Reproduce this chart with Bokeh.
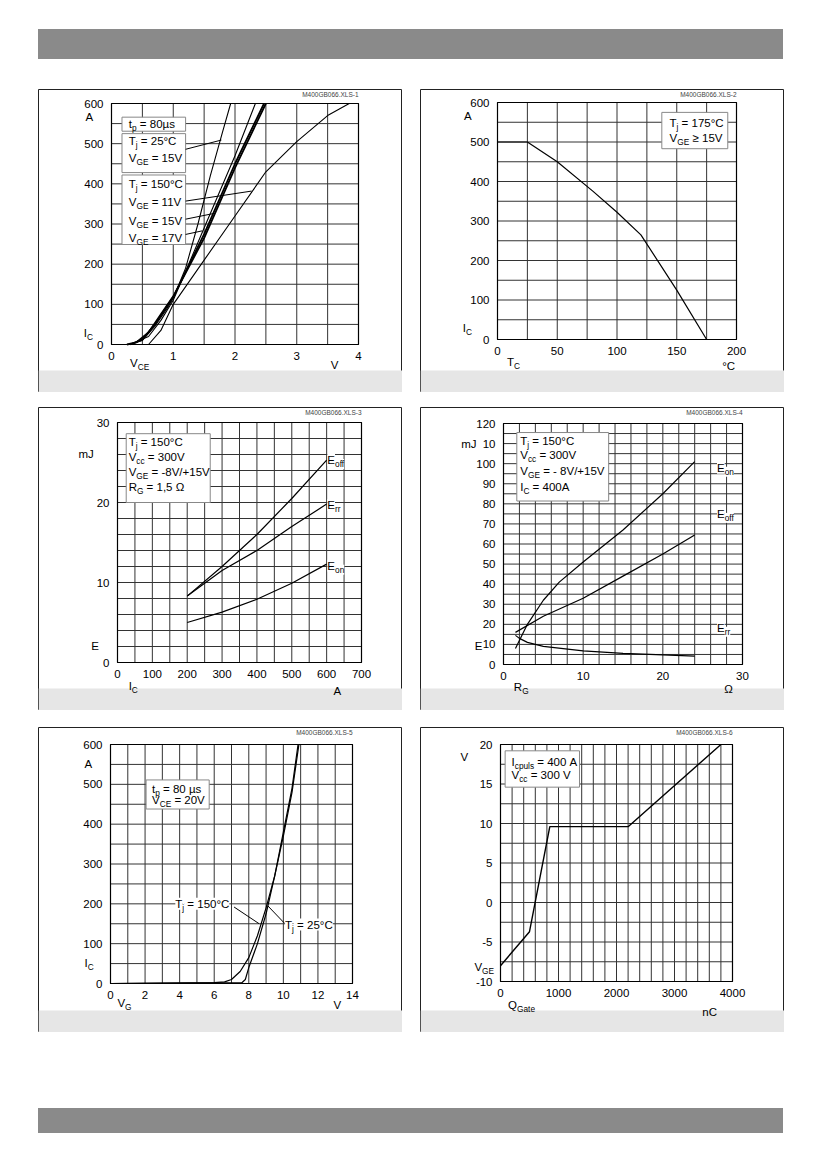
from bokeh.plotting import figure
from bokeh.models import Label, Div, Spacer
from bokeh.layouts import column, row
from bokeh.core.properties import value
from bokeh.embed import file_html
from bokeh.resources import INLINE

FONT = "Liberation Sans"
NB = "\u00a0"

# ---------------- data ----------------
# Panel 1: output characteristic
p1_25_15_x = [0.30, 0.50, 0.70, 0.90, 1.00, 1.20, 1.40, 1.60, 1.80, 1.93]
p1_25_15_y = [0, 10, 45, 90, 115, 190, 300, 420, 530, 600]
p1_b_x = [0.30, 0.60, 0.80, 1.00, 1.50, 2.00, 2.33]
p1_b_y = [0, 20, 60, 110, 290, 470, 600]
p1_150_15_x = [0.25, 0.40, 0.60, 0.80, 1.00, 1.50, 2.00, 2.50]
p1_150_15_y = [0, 5, 30, 75, 120, 265, 440, 600]
p1_150_17_x = [0.30, 0.50, 0.70, 0.90, 1.00, 1.50, 2.00, 2.47]
p1_150_17_y = [0, 12, 50, 95, 118, 275, 450, 600]
p1_150_11_x = [0.60, 0.80, 1.00, 1.50, 2.00, 2.50, 3.00, 3.50, 3.85]
p1_150_11_y = [0, 35, 100, 210, 320, 430, 505, 570, 600]
# Panel 2: current derating
p2_x = [0, 25, 50, 80, 100, 120, 150, 175]
p2_y = [500, 500, 450, 375, 322, 265, 125, 0]
# Panel 3: switching energy vs Ic
p3_x = [200, 300, 400, 500, 600]
p3_eoff = [8.3, 12.0, 16.0, 20.5, 25.3]
p3_err = [8.3, 11.5, 14.0, 17.0, 19.8]
p3_eon = [5.0, 6.3, 7.9, 9.9, 12.3]
# Panel 4: switching energy vs Rg
p4_eon_x = [1.5, 3, 5, 7, 10, 15, 20, 24]
p4_eon_y = [8, 20, 32, 41, 51, 67, 85, 101]
p4_eoff_x = [1.5, 5, 10, 15, 20, 24]
p4_eoff_y = [16, 24, 33, 44, 55, 64.5]
p4_err_x = [1.5, 2, 3, 5, 10, 15, 20, 24]
p4_err_y = [14.5, 13, 11, 9, 6.8, 5.5, 4.8, 4.2]
# Panel 5: transfer characteristic
p5_150_x = [0, 6, 6.6, 7, 7.5, 8, 8.5, 9, 9.5, 10, 10.5, 10.9]
p5_150_y = [0, 2, 4, 10, 30, 65, 120, 190, 270, 370, 480, 600]
p5_25_x = [0, 7.6, 7.8, 8, 8.5, 9, 9.5, 10, 10.5, 10.85]
p5_25_y = [0, 2, 10, 40, 100, 175, 270, 380, 490, 600]
# Panel 6: gate charge
p6_x = [0, 500, 850, 2200, 3800]
p6_y = [-8, -3.7, 9.6, 9.6, 20]

def rng(a, b, s):
    out = []
    v = a
    while v <= b + 1e-9:
        out.append(round(v, 6))
        v += s
    return out

# ---------------- helpers ----------------
CW = {' ': .28, NB: .28, 'i': .22, 'j': .22, 'l': .22, 'I': .28, 'f': .28, 't': .28, 'r': .33,
      'm': .83, 'W': .94, '=': .58, '≥': .55, '°': .4, 'µ': .58, 'Ω': .77, '/': .28,
      '+': .58, '-': .33, ',': .28, '.': .28, 'C': .72, 'V': .67, 'E': .67, 'T': .61,
      'G': .78, 'A': .67, 'R': .72, 'Q': .78, 'c': .5, 's': .5, 'p': .56, 'u': .56}

def tw(s, size):
    return sum(CW.get(c, .56) for c in s) * size

def rich(p, x, y, parts, size=11.5, bg=None):
    off = 0
    for txt, sub in parts:
        txt = txt.replace(" ", NB)
        fs = size * 0.72 if sub else size
        kw = {}
        if bg:
            kw = dict(background_fill_color=bg)
        p.add_layout(Label(x=x, y=y, x_offset=off, y_offset=-4 if sub else 0, text=txt,
                           text_font=FONT, text_font_size=f"{fs:.1f}px",
                           text_baseline="middle", text_align="left", text_color="black", **kw))
        off += tw(txt, fs)

W = 364
FOOT = 22

def make_fig(x0, x1, y0, y1, fw, fh, left, top, H, xt, xg, yt, yg, code, ylabels=None):
    sx = (x1 - x0) / fw
    sy = (y1 - y0) / fh
    right = W - left - fw
    bottom = H - top - fh
    xs, xe = x0 - left * sx, x1 + right * sx
    ys, ye = y0 - bottom * sy, y1 + top * sy
    p = figure(x_range=(xs, xe), y_range=(ys, ye), width=W, height=H, min_border=0,
               toolbar_location=None, output_backend="svg",
               background_fill_color="white", border_fill_color="white")
    p.axis.visible = False
    p.grid.visible = False
    p.outline_line_color = "#222222"
    p.outline_line_width = 1
    p.quad(left=[xs], right=[xe], bottom=[ys], top=[ys + FOOT * sy],
           fill_color="#e6e6e6", line_color=None)
    p.segment(x0=xg, x1=xg, y0=[y0] * len(xg), y1=[y1] * len(xg), line_color="#333333", line_width=1)
    p.segment(x0=[x0] * len(yg), x1=[x1] * len(yg), y0=yg, y1=yg, line_color="#333333", line_width=1)
    p.quad(left=[x0], right=[x1], bottom=[y0], top=[y1], fill_color=None,
           line_color="black", line_width=1.2)
    p.text(x=xt, y=[y0 - 7 * sy] * len(xt), text=[f"{v:g}" for v in xt],
           text_font=value(FONT), text_font_size="11.5px", text_align="center",
           text_baseline="top", text_color="black")
    ylab = [ylabels.get(v, f"{v:g}") if ylabels else f"{v:g}" for v in yt]
    p.text(x=[x0 - 8 * sx] * len(yt), y=yt, text=ylab,
           text_font=value(FONT), text_font_size="11.5px", text_align="right",
           text_baseline="middle", text_color="black")
    p.text(x=[x1], y=[ye - 5 * sy], text=[code], text_font=value(FONT), text_font_size="6.5px",
           text_color="#444444", text_align="right", text_baseline="middle")
    return p

def box(p, l, r, b, t):
    p.quad(left=[l], right=[r], bottom=[b], top=[t], fill_color="white",
           line_color="#888888", line_width=1)

def lead(p, xs, ys):
    p.line(xs, ys, line_color="black", line_width=1)

# ---------------- panel 1 ----------------
p1 = make_fig(0, 4, 0, 600, 247, 241, 73, 14, 303, [0, 1, 2, 3, 4], rng(0, 4, .5),
              rng(0, 600, 100), rng(0, 600, 50), "M400GB066.XLS-1")
box(p1, 0.17, 1.2, 531, 566)
box(p1, 0.17, 1.2, 428, 525)
box(p1, 0.17, 1.2, 249, 422)
for xs, ys, w in ((p1_25_15_x, p1_25_15_y, 1.1), (p1_b_x, p1_b_y, 1.1),
                  (p1_150_15_x, p1_150_15_y, 1.8), (p1_150_17_x, p1_150_17_y, 1.8),
                  (p1_150_11_x, p1_150_11_y, 1.1)):
    p1.line(xs, ys, line_color="black", line_width=w)
lead(p1, [1.2, 1.78], [486, 509])
lead(p1, [1.2, 2.27], [357, 382])
lead(p1, [1.2, 1.65], [312, 326])
lead(p1, [1.2, 1.47], [274, 283])
rich(p1, 0.28, 548, [("t", 0), ("p", 1), (" = 80µs", 0)])
rich(p1, 0.28, 507, [("T", 0), ("j", 1), (" = 25°C", 0)])
rich(p1, 0.28, 465, [("V", 0), ("GE", 1), (" = 15V", 0)])
rich(p1, 0.28, 400, [("T", 0), ("j", 1), (" = 150°C", 0)])
rich(p1, 0.28, 355, [("V", 0), ("GE", 1), (" = 11V", 0)])
rich(p1, 0.28, 308, [("V", 0), ("GE", 1), (" = 15V", 0)])
rich(p1, 0.28, 264, [("V", 0), ("GE", 1), (" = 17V", 0)])
rich(p1, -0.42, 566, [("A", 0)])
rich(p1, -0.45, 28, [("I", 0), ("C", 1)])
rich(p1, 0.3, -45, [("V", 0), ("CE", 1)])
rich(p1, 3.55, -52, [("V", 0)])

# ---------------- panel 2 ----------------
p2 = make_fig(0, 200, 0, 600, 239, 237, 77, 13, 303, rng(0, 200, 50), rng(0, 200, 25),
              rng(0, 600, 100), rng(0, 600, 50), "M400GB066.XLS-2")
p2.line(p2_x, p2_y, line_color="black", line_width=1.2)
box(p2, 137.5, 192.7, 483, 575)
rich(p2, 144, 549, [("T", 0), ("j", 1), (" = 175°C", 0)])
rich(p2, 144, 509, [("V", 0), ("GE", 1), (" ≥ 15V", 0)])
rich(p2, -28, 566, [("A", 0)])
rich(p2, -29, 30, [("I", 0), ("C", 1)])
rich(p2, 8, -58, [("T", 0), ("C", 1)])
rich(p2, 188, -66, [("°C", 0)])

# ---------------- panel 3 ----------------
p3 = make_fig(0, 700, 0, 30, 244, 240, 79, 15, 303, rng(0, 700, 100), rng(0, 700, 50),
              [0, 10, 20, 30], rng(0, 30, 2), "M400GB066.XLS-3")
box(p3, 25, 266, 20.0, 28.6)
for ys in (p3_eoff, p3_err, p3_eon):
    p3.line(p3_x, ys, line_color="black", line_width=1.2)
rich(p3, 32, 27.6, [("T", 0), ("j", 1), (" = 150°C", 0)])
rich(p3, 32, 25.7, [("V", 0), ("cc", 1), (" = 300V", 0)])
rich(p3, 32, 23.8, [("V", 0), ("GE", 1), (" = -8V/+15V", 0)])
rich(p3, 32, 21.9, [("R", 0), ("G", 1), (" = 1,5 Ω", 0)])
rich(p3, 602, 25.3, [("E", 0), ("off", 1)], bg="white")
rich(p3, 602, 19.7, [("E", 0), ("rr", 1)], bg="white")
rich(p3, 602, 12.1, [("E", 0), ("on", 1)], bg="white")
rich(p3, -112, 26.1, [("mJ", 0)])
rich(p3, -75, 2.1, [("E", 0)])
rich(p3, 32, -2.9, [("I", 0), ("C", 1)])
rich(p3, 620, -3.5, [("A", 0)])

# ---------------- panel 4 ----------------
p4 = make_fig(0, 30, 0, 120, 239, 241, 83, 16, 303, [0, 10, 20, 30], rng(0, 30, 2),
              rng(0, 120, 10), rng(0, 120, 5), "M400GB066.XLS-4", ylabels={110: "10"})
box(p4, 1.67, 13.2, 81.4, 115.5)
p4.line(p4_eon_x, p4_eon_y, line_color="black", line_width=1.2)
p4.line(p4_eoff_x, p4_eoff_y, line_color="black", line_width=1.2)
p4.line(p4_err_x, p4_err_y, line_color="black", line_width=1.2)
rich(p4, 2.1, 111.4, [("T", 0), ("j", 1), (" = 150°C", 0)])
rich(p4, 2.1, 104.2, [("V", 0), ("cc", 1), (" = 300V", 0)])
rich(p4, 2.1, 96.4, [("V", 0), ("GE", 1), (" = - 8V/+15V", 0)])
rich(p4, 2.1, 88.6, [("I", 0), ("C", 1), (" = 400A", 0)])
rich(p4, 26.8, 98, [("E", 0), ("on", 1)], bg="white")
rich(p4, 26.8, 75, [("E", 0), ("off", 1)], bg="white")
rich(p4, 26.8, 18.3, [("E", 0), ("rr", 1)], bg="white")
rich(p4, -5.3, 110, [("mJ", 0)])
rich(p4, -3.6, 9, [("E", 0)])
rich(p4, 1.3, -11, [("R", 0), ("G", 1)])
rich(p4, 27.7, -12, [("Ω", 0)])

# ---------------- panel 5 ----------------
p5 = make_fig(0, 14, 0, 600, 242, 239, 72, 17, 305, rng(0, 14, 2), rng(0, 14, 1),
              rng(0, 600, 100), rng(0, 600, 50), "M400GB066.XLS-5")
box(p5, 2.06, 5.71, 438, 511)
p5.line(p5_150_x, p5_150_y, line_color="black", line_width=1.2)
p5.line(p5_25_x, p5_25_y, line_color="black", line_width=1.2)
rich(p5, 2.4, 489, [("t", 0), ("p", 1), (" = 80 µs", 0)])
rich(p5, 2.4, 461, [("V", 0), ("CE", 1), (" = 20V", 0)])
lead(p5, [7.15, 8.6], [192, 150])
lead(p5, [10.05, 9.1], [152, 195])
rich(p5, 3.75, 200, [("T", 0), ("j", 1), (" = 150°C", 0)], bg="white")
rich(p5, 10.1, 148, [("T", 0), ("j", 1), (" = 25°C", 0)], bg="white")
rich(p5, -1.5, 551, [("A", 0)])
rich(p5, -1.5, 51, [("I", 0), ("C", 1)])
rich(p5, 0.4, -50, [("V", 0), ("G", 1)])
rich(p5, 12.9, -54, [("V", 0)])

# ---------------- panel 6 ----------------
p6 = make_fig(0, 4000, -10, 20, 232, 237, 80, 17, 305, rng(0, 4000, 1000), rng(0, 4000, 200),
              rng(-10, 20, 5), rng(-10, 20, 2.5), "M400GB066.XLS-6")
box(p6, 80, 1362, 14.6, 19.2)
p6.line(p6_x, p6_y, line_color="black", line_width=1.4)
rich(p6, 190, 17.75, [("I", 0), ("cpuls", 1), (" = 400 A", 0)])
rich(p6, 190, 16.2, [("V", 0), ("cc", 1), (" = 300 V", 0)])
rich(p6, -690, 18.4, [("V", 0)])
rich(p6, -450, -8.2, [("V", 0), ("GE", 1)])
rich(p6, 130, -13.0, [("Q", 0), ("Gate", 1)])
rich(p6, 3480, -13.8, [("nC", 0)])

# ---------------- layout ----------------
def bar(h):
    return Div(width=745, height=h, styles={"background-color": "#8a8a8a"})

page = column(
    Spacer(height=24),
    row(Spacer(width=33), bar(30)),
    Spacer(height=25),
    row(Spacer(width=38), p1, Spacer(width=18), p2),
    Spacer(height=15),
    row(Spacer(width=38), p3, Spacer(width=18), p4),
    Spacer(height=17),
    row(Spacer(width=38), p5, Spacer(width=18), p6),
    Spacer(height=71),
    row(Spacer(width=33), bar(25)),
    spacing=0,
)

open("out.html", "w").write(file_html(page, INLINE))
